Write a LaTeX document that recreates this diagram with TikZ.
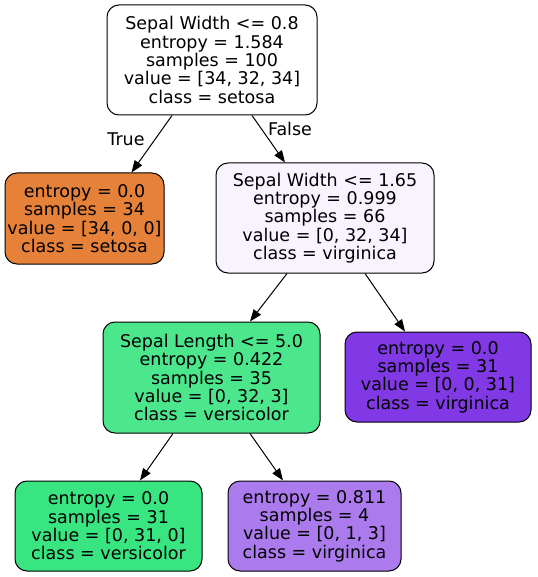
\documentclass[tikz,border=0pt]{standalone}
\usepackage{fontspec}
\setmainfont{DejaVu Sans}
\usetikzlibrary{arrows.meta,calc}
\definecolor{cset}{HTML}{E58139}
\definecolor{cR}{HTML}{F8F3FE}
\definecolor{cSL}{HTML}{4CE78D}
\definecolor{cvir}{HTML}{8139E5}
\definecolor{cver}{HTML}{39E581}
\definecolor{cBR}{HTML}{AB7BEE}
\tikzset{
  tnode/.style={draw=black, line width=1pt, rounded corners=12pt, align=center,
    inner sep=0pt, font=\fontsize{17.5}{18.3}\selectfont},
  edge/.style={line width=1pt, -{Triangle[length=12pt,width=9pt]}},
  elab/.style={font=\fontsize{17.5}{18.3}\selectfont, inner sep=0pt}
}
\begin{document}
\begin{tikzpicture}[x=1pt,y=-1pt]
\useasboundingbox (0,0) rectangle (537,577);
\node[tnode, fill=white, minimum width=210pt, minimum height=110pt] (root) at (212,60)
  {Sepal Width <= 0.8\\entropy = 1.584\\samples = 100\\value = [34, 32, 34]\\class = setosa};
\node[tnode, fill=cset, minimum width=159pt, minimum height=91pt] (L) at (84.5,218.5)
  {entropy = 0.0\\samples = 34\\value = [34, 0, 0]\\class = setosa};
\node[tnode, fill=cR, minimum width=218pt, minimum height=110pt] (R) at (325,218)
  {Sepal Width <= 1.65\\entropy = 0.999\\samples = 66\\value = [0, 32, 34]\\class = virginica};
\node[tnode, fill=cSL, minimum width=217pt, minimum height=111pt] (SL) at (211.5,377.5)
  {Sepal Length <= 5.0\\entropy = 0.422\\samples = 35\\value = [0, 32, 3]\\class = versicolor};
\node[tnode, fill=cvir, minimum width=186pt, minimum height=90pt] (PL) at (438,377)
  {entropy = 0.0\\samples = 31\\value = [0, 0, 31]\\class = virginica};
\node[tnode, fill=cver, minimum width=187pt, minimum height=90pt] (BL) at (108.5,526)
  {entropy = 0.0\\samples = 31\\value = [0, 31, 0]\\class = versicolor};
\node[tnode, fill=cBR, minimum width=173pt, minimum height=90pt] (BR) at (314.5,526)
  {entropy = 0.811\\samples = 4\\value = [0, 1, 3]\\class = virginica};
\draw[edge] ($(root.south)+(-40,0)$) -- ($(L.north)+(47,0)$);
\draw[edge] ($(root.south)+(40,0)$) -- ($(R.north)+(-40,0)$);
\draw[edge] ($(R.south)+(-38,0)$) -- ($(SL.north)+(38.5,0)$);
\draw[edge] ($(R.south)+(40,0)$) -- ($(PL.north)+(-33,0)$);
\draw[edge] ($(SL.south)+(-38.5,0)$) -- ($(BL.north)+(31.5,0)$);
\draw[edge] ($(SL.south)+(38.5,0)$) -- ($(BR.north)+(-31.5,0)$);
\node[elab] (tlab) at (126,139) {True};
\node[elab] (flab) at (290,129) {False};
\end{tikzpicture}
\end{document}
